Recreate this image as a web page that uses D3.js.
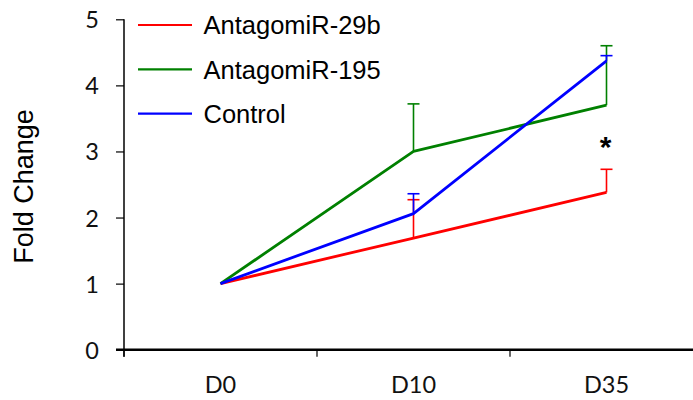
<!DOCTYPE html>
<html>
<head>
<meta charset="utf-8">
<script src="https://cdn.jsdelivr.net/npm/d3@7/dist/d3.min.js"></script>
<style>
  html, body { margin: 0; padding: 0; background: #fff; }
  svg { display: block; }
</style>
</head>
<body>
<svg id="chart" width="693" height="400"></svg>
<script>
const categories = ["D0", "D10", "D35"];
const seriesNames = ["AntagomiR-29b", "AntagomiR-195", "Control"];
const seriesColors = ["#ff0000", "#008000", "#0000ff"];
const antagomir29b = [1.0, 1.69, 2.38];
const antagomir29bErr = [0, 0.58, 0.35];
const antagomir195 = [1.0, 3.0, 3.70];
const antagomir195Err = [0, 0.72, 0.90];
const control = [1.0, 2.06, 4.37];
const controlErr = [0, 0.30, 0.08];
const yTicks = [0, 1, 2, 3, 4, 5];
const yTitle = "Fold Change";
const significanceMark = "*";
const significanceCategory = "D35";
const significanceValue = 3.25;

const series = [
  { name: seriesNames[0], color: seriesColors[0], values: antagomir29b, err: antagomir29bErr },
  { name: seriesNames[1], color: seriesColors[1], values: antagomir195, err: antagomir195Err },
  { name: seriesNames[2], color: seriesColors[2], values: control, err: controlErr }
];

const svg = d3.select("#chart");
const x = d3.scaleBand().domain(categories).range([124, 703]).paddingInner(0).paddingOuter(0);
const y = d3.scaleLinear().domain([0, 5]).range([349.7, 19.3]);
const cx = c => x(c) + x.bandwidth() / 2;

// Y axis
const yAxis = d3.axisLeft(y).tickValues(yTicks).tickSize(8).tickPadding(17).tickFormat(d3.format("d"));
const gy = svg.append("g").attr("transform", "translate(124,0)").call(yAxis);
gy.select(".domain").attr("d", "M0," + y(5) + "V" + (y(0) + 7)).attr("stroke", "#000").attr("stroke-width", 1.5);
gy.selectAll(".tick line").attr("stroke", "#000").attr("stroke-width", 1.2);
gy.selectAll(".tick text").attr("font-family", "Lato, 'Open Sans', sans-serif").attr("font-size", 23.5).attr("fill", "#111").attr("dy", "0.36em");

// X axis
const xAxis = d3.axisBottom(x).tickSize(0).tickPadding(27);
const gx = svg.append("g").attr("transform", "translate(0,349.7)").call(xAxis);
gx.select(".domain").attr("d", "M116," + 0 + "H703").attr("stroke", "#000").attr("stroke-width", 2.5);
gx.selectAll(".tick text").attr("font-family", "Lato, 'Open Sans', sans-serif").attr("font-size", 23.5).attr("fill", "#111").attr("dy", "0.71em");
// band boundary ticks
const bounds = categories.map(c => x(c));
gx.selectAll(".bt").data(bounds).enter().append("line")
  .attr("x1", d => d).attr("x2", d => d).attr("y1", 0).attr("y2", 7)
  .attr("stroke", "#000").attr("stroke-width", 1.2);

// Y title
svg.append("text")
  .attr("transform", "translate(33,186.5) rotate(-90)")
  .attr("text-anchor", "middle")
  .attr("font-family", "Arial, 'Liberation Sans', sans-serif")
  .attr("font-size", 27)
  .attr("fill", "#000")
  .text(yTitle);

// Series
const line = d3.line().x((d, i) => cx(categories[i])).y(d => y(d));
series.forEach(s => {
  const g = svg.append("g");
  g.append("path").datum(s.values).attr("d", line)
    .attr("fill", "none").attr("stroke", s.color).attr("stroke-width", 2.8).attr("stroke-linejoin", "round");
  s.values.forEach((v, i) => {
    if (!s.err[i]) return;
    const px = cx(categories[i]);
    g.append("line").attr("x1", px).attr("x2", px).attr("y1", y(v)).attr("y2", y(v + s.err[i]))
      .attr("stroke", s.color).attr("stroke-width", 1.6);
    g.append("line").attr("x1", px - 6).attr("x2", px + 6).attr("y1", y(v + s.err[i])).attr("y2", y(v + s.err[i]))
      .attr("stroke", s.color).attr("stroke-width", 1.6);
  });
});

// Significance mark
svg.append("text")
  .attr("x", cx(significanceCategory) - 1).attr("y", y(significanceValue))
  .attr("text-anchor", "middle")
  .attr("font-family", "Arial, 'Liberation Sans', sans-serif")
  .attr("font-weight", "bold").attr("font-size", 30).attr("fill", "#000")
  .attr("dy", "0.72em")
  .text(significanceMark);

// Legend
const leg = svg.append("g");
series.forEach((s, i) => {
  const ly = 25 + i * 44.3;
  leg.append("line").attr("x1", 138).attr("x2", 192).attr("y1", ly).attr("y2", ly)
    .attr("stroke", s.color).attr("stroke-width", 2.2);
  leg.append("text").attr("x", 203.5).attr("y", ly + 9.3)
    .attr("font-family", "Arial, 'Liberation Sans', sans-serif")
    .attr("font-size", 25.5).attr("fill", "#000")
    .text(s.name);
});
</script>
</body>
</html>
